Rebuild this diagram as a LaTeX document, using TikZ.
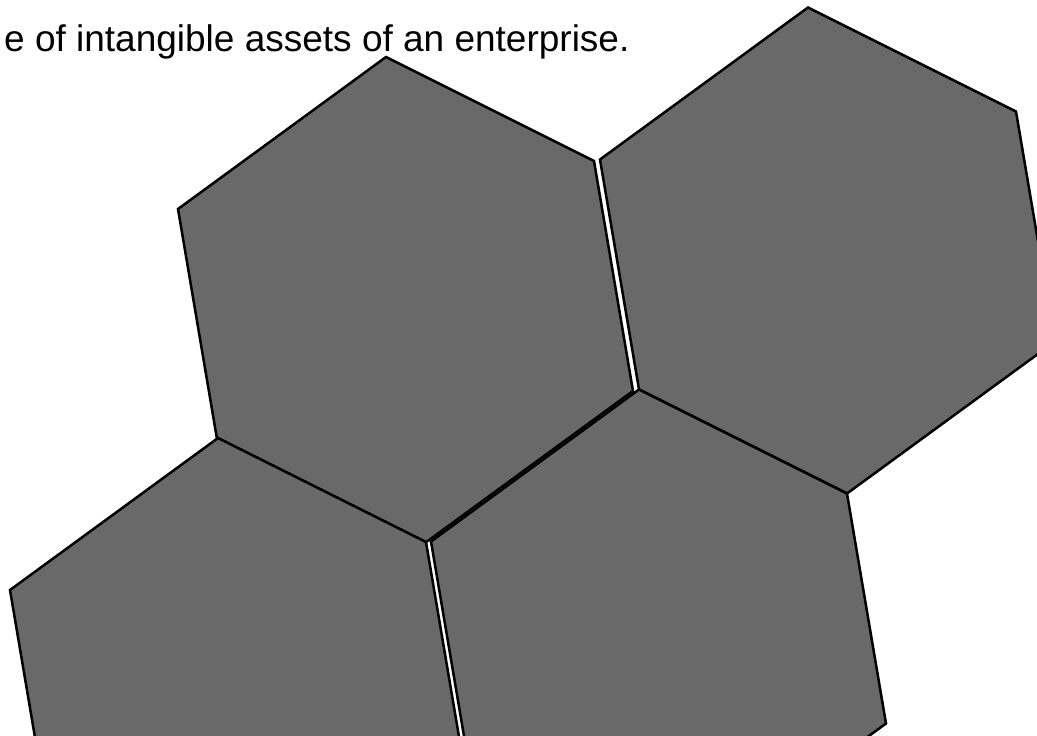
\documentclass[tikz,border=0pt]{standalone}
\usepackage{fontspec}
\setmainfont{Liberation Sans}
\usepackage{xcolor}
\definecolor{cellgray}{RGB}{105,105,105}

\begin{document}
\begin{tikzpicture}[x=1pt, y=-1pt,
    hexcell/.style={fill=cellgray, draw=black, line width=2.5pt, line join=miter}]
  \useasboundingbox (0,0) rectangle (1037,736);
  \clip (0,0) rectangle (1037,736);
  % caption line, cut at the left edge
  \node[anchor=base west, inner sep=0pt, font=\fontsize{37}{44}\selectfont] (caption) at (4,51)
       {e of intangible assets of an enterprise.};
  % upper left cell
  \draw[hexcell] (386,57) -- ++(208,104) -- ++(39,230) -- ++(-208,152)
       -- ++(-208,-104) -- ++(-39,-230) -- cycle;
  % upper right cell
  \draw[hexcell] (808,7.5) -- ++(208,104) -- ++(39,230) -- ++(-208,152)
       -- ++(-208,-104) -- ++(-39,-230) -- cycle;
  % lower left cell
  \draw[hexcell] (218,438) -- ++(208,104) -- ++(39,230) -- ++(-208,152)
       -- ++(-208,-104) -- ++(-39,-230) -- cycle;
  % lower right cell
  \draw[hexcell] (639,389.5) -- ++(208,104) -- ++(39,230) -- ++(-208,152)
       -- ++(-208,-104) -- ++(-39,-230) -- cycle;
\end{tikzpicture}
\end{document}
